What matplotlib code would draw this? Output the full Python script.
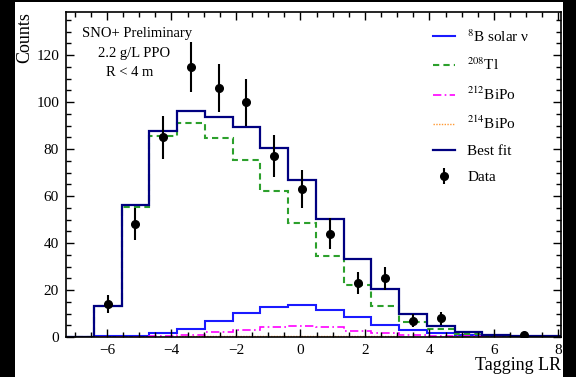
import numpy as np
import matplotlib
matplotlib.use("Agg")
import matplotlib.pyplot as plt
from matplotlib.patches import Rectangle
from matplotlib.ticker import MultipleLocator
from matplotlib.lines import Line2D

plt.rcParams['font.family'] = ['Liberation Serif', 'DejaVu Serif']
plt.rcParams['mathtext.fontset'] = 'stix'

# ---- data ----
bin_start = -7.27
bin_width = 0.861
n_bins = 18
edges = bin_start + bin_width * np.arange(n_bins + 1)
centers = 0.5 * (edges[:-1] + edges[1:])

best_fit = [0, 13.4, 56.2, 87.5, 96.0, 93.8, 89.2, 80.4, 67.0, 50.4, 33.2, 20.3, 9.9, 4.8, 2.1, 1.0, 0.5, 0.3]
tl208 = [0, 13.0, 55.5, 85.4, 91.2, 84.8, 75.5, 62.1, 48.3, 34.5, 22.0, 13.1, 6.4, 3.3, 1.2, 0.5, 0.2, 0.1]
b8_solar = [0, 0.3, 0.6, 1.6, 3.6, 6.7, 10.2, 12.9, 13.5, 11.5, 8.5, 5.0, 2.9, 1.6, 1.0, 0.5, 0.2, 0.1]
bipo212 = [0, 0.1, 0.2, 0.5, 1.0, 2.0, 3.0, 4.1, 4.5, 4.1, 2.6, 1.7, 1.0, 0.5, 0.3, 0.1, 0.05, 0.0]
bipo214 = [0, 0.05, 0.1, 0.2, 0.3, 0.4, 0.5, 0.6, 0.6, 0.5, 0.4, 0.3, 0.2, 0.1, 0.05, 0.0, 0.0, 0.0]
data = [0, 14, 48, 85, 115, 106, 100, 77, 63, 44, 23, 25, 7, 8, 0, 0, 1, 0]

labels = [r"$^{8}$B solar ν", r"$^{208}$Tl", r"$^{212}$BiPo", r"$^{214}$BiPo", "Best fit", "Data"]

# ---- figure ----
W, H = 576, 377
fig = plt.figure(figsize=(W / 100, H / 100), dpi=100)
fig.patch.set_facecolor('black')
fig.patches.append(Rectangle((15 / W, 0), 548 / W, 375 / H, transform=fig.transFigure,
                             facecolor='white', edgecolor='none', zorder=-10))

ax = fig.add_axes([66 / W, 40 / H, 495 / W, 325 / H])
ax.set_facecolor('white')

c_b8, c_tl, c_212, c_214, c_bf = '#1a1aff', '#2ca02c', '#ff00ff', '#ff9933', '#000080'
ls_tl, ls_212, ls_214 = (0, (3, 2)), (0, (5, 2, 1, 2)), (0, (1, 1))

ax.stairs(b8_solar, edges, color=c_b8, lw=1.5)
ax.stairs(tl208, edges, color=c_tl, lw=1.5, ls=ls_tl)
ax.stairs(bipo212, edges, color=c_212, lw=1.2, ls=ls_212)
ax.stairs(bipo214, edges, color=c_214, lw=1.0, ls=ls_214)
ax.stairs(best_fit, edges, color=c_bf, lw=1.6)

d = np.array(data, dtype=float)
m = d > 0
h_d = ax.errorbar(centers[m], d[m], yerr=np.sqrt(d[m]), fmt='o', color='black',
                  ms=5.5, elinewidth=1.5, capsize=0, zorder=5)

ax.set_xlim(-7.27, 8.08)
ax.set_ylim(0, 138.3)
ax.xaxis.set_major_locator(MultipleLocator(2))
ax.xaxis.set_minor_locator(MultipleLocator(0.5))
ax.yaxis.set_major_locator(MultipleLocator(20))
ax.yaxis.set_minor_locator(MultipleLocator(5))
ax.tick_params(which='both', direction='in', top=True, right=True, width=1.0, color='black')
ax.tick_params(which='major', length=6, labelsize=11, pad=5)
ax.tick_params(which='minor', length=3.5)
for s in ax.spines.values():
    s.set_linewidth(1.2)

ax.set_xlabel("Tagging LR", fontsize=13, loc='right', labelpad=0)
ax.set_ylabel("Counts", fontsize=13, loc='top', labelpad=2)

ax.text((137 - 66) / 495, (337 - 33) / 325, "SNO+ Preliminary", transform=ax.transAxes,
        ha='center', va='center', fontsize=10.5)
ax.text((134 - 66) / 495, (337 - 53) / 325, "2.2 g/L PPO", transform=ax.transAxes,
        ha='center', va='center', fontsize=10.5)
ax.text((129.5 - 66) / 495, (337 - 73) / 325, "R < 4 m", transform=ax.transAxes,
        ha='center', va='center', fontsize=10.5)

handles = [Line2D([], [], color=c_b8, lw=1.5),
           Line2D([], [], color=c_tl, lw=1.5, ls=ls_tl),
           Line2D([], [], color=c_212, lw=1.2, ls=ls_212),
           Line2D([], [], color=c_214, lw=1.0, ls=ls_214),
           Line2D([], [], color=c_bf, lw=1.6),
           h_d]
ax.legend(handles, labels, loc='upper left', bbox_to_anchor=((433 - 66) / 495, (337 - 28) / 325),
          frameon=False, fontsize=11, handlelength=1.45, handletextpad=0.8,
          labelspacing=0.8, borderpad=0, borderaxespad=0)

fig.savefig("out.png", dpi=100, facecolor=fig.get_facecolor())
